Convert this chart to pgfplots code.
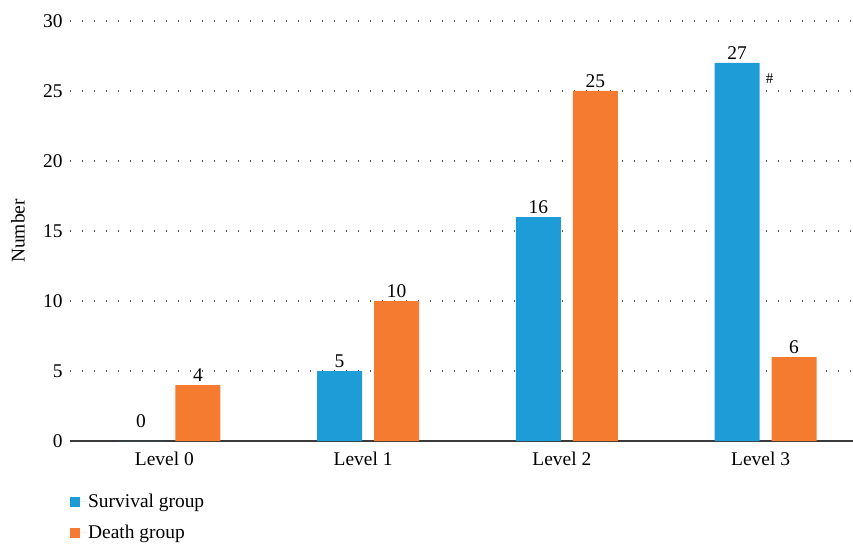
\documentclass[border=0pt]{standalone}
\usepackage{pgfplots}
\pgfplotsset{compat=1.18}
\usepackage{fontspec}
\setmainfont{Liberation Serif}
\definecolor{survblue}{HTML}{1E9CD7}
\definecolor{deathorange}{HTML}{F47B30}
\definecolor{axgray}{HTML}{3A3A3A}
\begin{document}
\begin{tikzpicture}[x=1bp,y=1bp]
\useasboundingbox (-70bp,-104bp) rectangle (783bp,441bp);
\begin{axis}[
  at={(0,0)}, anchor=south west,
  scale only axis,
  width=783bp, height=420bp,
  font=\fontsize{19.5}{22}\selectfont,
  /pgf/number format/assume math mode=true,
  ybar=12bp, bar width=45bp,
  xmin=-0.5, xmax=3.44,
  ymin=0, ymax=30,
  ytick={0,5,10,15,20,25,30},
  xtick={0,1,2,3},
  xticklabels={Level 0,Level 1,Level 2,Level 3},
  xticklabel style={xshift=-5bp, yshift=-7bp},
  major tick length=0pt,
  axis x line*=bottom,
  axis y line*=left,
  y axis line style={draw=none},
  x axis line style={axgray, line width=1.1bp, -},
  ymajorgrids,
  grid style={black!65, line width=1.1bp, dash pattern=on 1.1bp off 10.9bp},
  ylabel={Number},
  ylabel style={at={(rel axis cs:-0.0664,0.5)}, anchor=center},
  yticklabel style={xshift=-4bp},
  nodes near coords,
  nodes near coords style={font=\fontsize{19.5}{22}\selectfont, inner sep=3bp},
  coordinate style/.condition={y==0}{yshift=10bp},
  legend style={at={(rel axis cs:0,-0.122)}, anchor=north west, draw=none, fill=none,
    font=\fontsize{19.5}{22}\selectfont, row sep=12bp, inner sep=0pt},
  legend cell align=left,
  legend image code/.code={\fill[#1] (0bp,-5bp) rectangle (10bp,5bp); \path (0bp,0bp) -- (16bp,0bp);},
]
\addplot[fill=survblue, draw=none] coordinates {(0,0) (1,5) (2,16) (3,27)};
\addplot[fill=deathorange, draw=none] coordinates {(0,4) (1,10) (2,25) (3,6)};
\legend{Survival group, Death group}
\node[font=\fontsize{15}{17}\selectfont] at (axis cs:3.02,25.9) {\#};
\end{axis}
\end{tikzpicture}
\end{document}
